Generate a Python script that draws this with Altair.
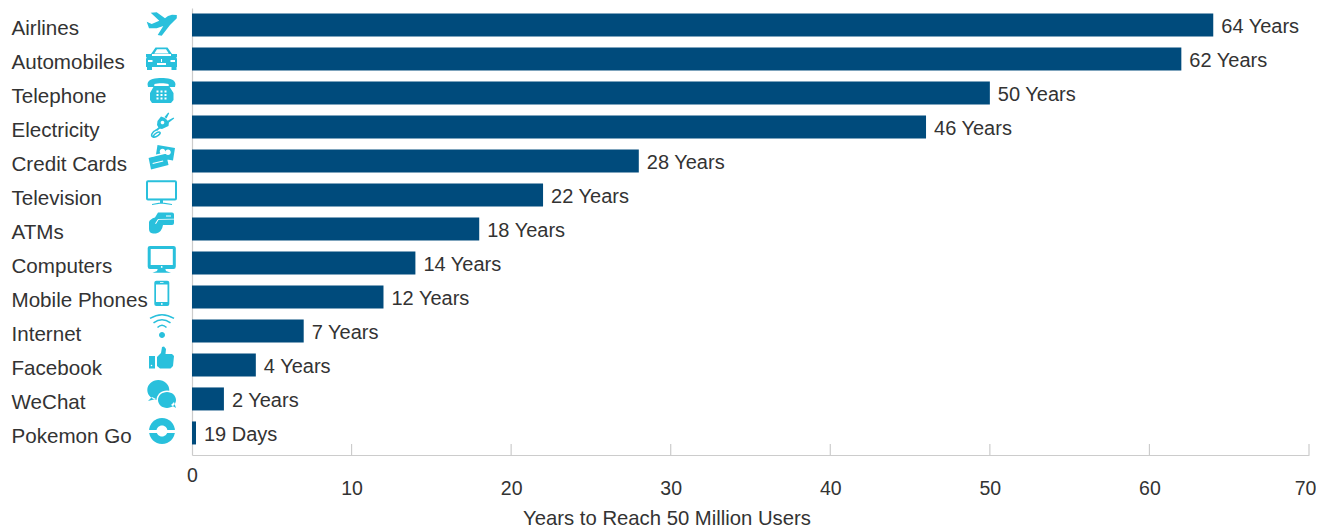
import altair as alt
import pandas as pd

categories = ["Airlines", "Automobiles", "Telephone", "Electricity", "Credit Cards", "Television", "ATMs",
              "Computers", "Mobile Phones", "Internet", "Facebook", "WeChat", "Pokemon Go"]
years = [64, 62, 50, 46, 28, 22, 18, 14, 12, 7, 4, 2, 0.25]
labels = ["64 Years", "62 Years", "50 Years", "46 Years", "28 Years", "22 Years", "18 Years", "14 Years",
          "12 Years", "7 Years", "4 Years", "2 Years", "19 Days"]
ticks = [10, 20, 30, 40, 50, 60, 70]

BAR = "#004b7c"
CYAN = "#29c0dc"
TEXT = "#333333"
GREY = "#cccccc"
FONT = "Liberation Sans"


# Icon glyphs: each drawn around its own row centre (size=4 means one path unit = one pixel).
def row_origin(i):
    return 161, 25 + 34 * i


class Pen:
    def __init__(self, i):
        self.ox, self.oy = row_origin(i)
        self.parts = []

    def p(self, x, y):
        return f"{x - self.ox:.2f} {y - self.oy:.2f}"

    def poly(self, *pts, close=True):
        s = "M" + " L".join(self.p(*q) for q in pts)
        self.parts.append(s + (" Z" if close else ""))
        return self

    def rect(self, x0, y0, x1, y1):
        return self.poly((x0, y0), (x1, y0), (x1, y1), (x0, y1))

    def ell(self, cx, cy, rx, ry=None):
        ry = rx if ry is None else ry
        a = f"M{self.p(cx - rx, cy)} A{rx} {ry} 0 1 1 {self.p(cx + rx, cy)} A{rx} {ry} 0 1 1 {self.p(cx - rx, cy)} Z"
        self.parts.append(a)
        return self

    def curve(self, a, b, c):
        self.parts.append(f"M{self.p(*a)} Q{self.p(*b)} {self.p(*c)}")
        return self

    def raw(self, *cmds):
        out = []
        for cmd, *pts in cmds:
            out.append(cmd + " ".join(self.p(*q) for q in pts))
        self.parts.append(" ".join(out))
        return self

    def d(self):
        return " ".join(self.parts) if self.parts else "M0 0"


icon_fill, icon_white, icon_top, icon_line = [], [], [], []


def add(i, fill=None, white=None, top=None, line=None):
    pens = [Pen(i), Pen(i), Pen(i), Pen(i)]
    for fn, pen in zip([fill, white, top, line], pens):
        if fn:
            fn(pen)
    icon_fill.append(pens[0].d())
    icon_white.append(pens[1].d())
    icon_top.append(pens[2].d())
    icon_line.append(pens[3].d())


# Airlines
add(0, fill=lambda g: g.poly((176.8, 15), (172, 14.8), (168, 16), (165, 18.3), (156.7, 12.3), (150.7, 12.7),
                             (159.3, 20.7), (151.7, 24), (146.7, 21.7), (149, 28.3), (156.7, 28.3),
                             (163.3, 26), (157.7, 35), (161.7, 35.7), (170, 25), (176.8, 18.3)))
# Automobiles
add(1, fill=lambda g: g.poly((151, 54), (155.5, 47.5), (167.5, 47.5), (172, 54)).rect(146, 54, 152, 57)
    .rect(171, 54, 177, 57).poly((147, 56), (176, 56), (177, 59), (177, 67), (146, 67), (146, 59))
    .rect(147, 67, 152, 70).rect(171.5, 67, 176.5, 70),
    white=lambda g: g.poly((154.3, 53.5), (157, 49.2), (166, 49.2), (168.8, 53.5)).rect(148, 60, 152.5, 62)
    .rect(170.5, 60, 175, 62).rect(157, 63, 166, 65).rect(161, 59, 162, 62))
# Telephone
add(2, fill=lambda g: g.raw(("M", (147.5, 84)), ("C", (148, 78.5), (156, 78), (161.5, 78), (167, 78), (175, 78.5), (175.5, 84)),
                            ("L", (175, 87)), ("L", (169, 87)), ("L", (168.5, 84)), ("C", (165, 83), (158, 83), (154.5, 84)),
                            ("L", (154, 87)), ("L", (148, 87)), ("Z",)).poly((154, 86), (169, 86), (173.5, 93), (173.5, 100),
                            (171, 103), (152, 103), (150, 100), (150, 93)),
    white=lambda g: [g.rect(x - 1, y - 1, x + 1, y + 1) for x in (157.5, 161.5, 165.5) for y in (91.5, 95, 98.5)])
# Electricity
add(3, fill=lambda g: g.poly((161, 116.5), (165, 118), (169, 122), (168.5, 126), (162, 129), (159, 128.5), (157, 125), (157.5, 121))
    .poly((164.5, 117), (168.2, 112.5), (169.2, 113.2), (166.5, 118.5)).poly((168, 120.5), (173.5, 117.5), (174.2, 118.5), (169, 122.5))
    .poly((159, 127), (160, 128.5), (157, 131), (155.5, 129.8)),
    white=lambda g: g.ell(162.5, 122.5, 1.8),
    line=lambda g: g.raw(("M", (156.5, 130)), ("C", (152, 132), (150, 136), (153, 137), (156, 138), (161, 134), (160, 132.5), (159, 131), (155, 133), (153, 136.5))))
# Credit cards
add(4, fill=lambda g: g.poly((157.5, 145), (175, 148), (173, 160.5), (155.5, 157.5))
    .poly((148.5, 157.5), (166, 153.5), (168.5, 165), (151, 169.5)),
    white=lambda g: g.ell(162.5, 151.5, 2.8).ell(168, 152.3, 2.8).poly((147, 156.5), (166, 152.2), (166.9, 153.5), (148, 158))
    .poly((152.5, 163), (163, 160.5), (163.3, 161.5), (152.8, 164)))
# Television
add(5, fill=lambda g: g.raw(("M", (148, 180.3)), ("L", (175, 180.3)), ("Q", (177, 180.3), (177, 182.3)), ("L", (177, 198.5)),
                            ("Q", (177, 200.5), (175, 200.5)), ("L", (148, 200.5)), ("Q", (146, 200.5), (146, 198.5)), ("L", (146, 182.3)),
                            ("Q", (146, 180.3), (148, 180.3)), ("Z",))
    .rect(160, 200, 163, 203).poly((152, 204), (160, 202.5), (163, 202.5), (172, 204), (172, 205), (163, 203.7), (160, 203.7), (152, 205)),
    white=lambda g: g.rect(148, 182.3, 175, 198.5))
# ATMs
add(6, fill=lambda g: g.raw(("M", (158, 212.5)), ("L", (172, 212.5)), ("Q", (174, 212.5), (174, 214.5)), ("L", (174, 223)),
                            ("Q", (174, 225), (172, 225)), ("L", (163, 225)), ("Q", (162, 232), (156, 233.5)), ("L", (153, 233.5)), ("Q", (149, 233), (149, 229)),
                            ("L", (149, 222)), ("Q", (150, 219), (155, 217.5)), ("Z",)),
    white=lambda g: g.poly((155, 223.5), (158, 219), (174, 218.8), (174, 219.6), (158.6, 219.8), (156, 224))
    .rect(166, 215.5, 171, 216.5))
# Computers
add(7, fill=lambda g: g.raw(("M", (150, 246)), ("L", (173.5, 246)), ("Q", (175.8, 246), (175.8, 248)), ("L", (175.8, 266.5)),
                            ("Q", (175.8, 269), (173.5, 269)), ("L", (150, 269)), ("Q", (147.7, 269), (147.7, 266.5)), ("L", (147.7, 248)),
                            ("Q", (147.7, 246), (150, 246)), ("Z",)).poly((158, 268), (165, 268), (166, 271), (171, 272.7), (152.5, 272.7), (157, 271)),
    white=lambda g: g.rect(150.7, 249, 172.8, 265).ell(161.7, 267, 0.9))
# Mobile phones
add(8, fill=lambda g: g.raw(("M", (156.3, 280.7)), ("L", (167.3, 280.7)), ("Q", (169.3, 280.7), (169.3, 282.7)), ("L", (169.3, 304)),
                            ("Q", (169.3, 306), (167.3, 306)), ("L", (156.3, 306)), ("Q", (154.3, 306), (154.3, 304)), ("L", (154.3, 282.7)),
                            ("Q", (154.3, 280.7), (156.3, 280.7)), ("Z",)),
    white=lambda g: g.rect(156, 284.5, 167.5, 302).ell(161.8, 304, 0.9).rect(160, 282.4, 163.5, 283))
# Internet
add(9, fill=lambda g: g.ell(162, 335, 3),
    line=lambda g: g.curve((150, 318.5), (162, 311), (174, 318.5)).curve((153.5, 323), (162, 316.5), (170.5, 323))
    .curve((157.5, 327.5), (162, 323), (166.5, 327.5)))
# Facebook
add(10, fill=lambda g: g.rect(149, 356, 155, 368.5).poly((157, 357), (161, 353), (162, 347), (164, 346.5), (166, 349), (165.5, 354),
                                                       (172, 354), (174, 356), (173, 366), (170.5, 368.5), (160, 368.5), (157, 366)),
    white=lambda g: g.ell(151.5, 365.5, 0.8))
# WeChat
add(11, fill=lambda g: g.ell(158.3, 390, 11, 10).poly((152, 397), (148, 401), (156, 399)),
    white=lambda g: g.ell(167, 400, 10.5, 9.5),
    top=lambda g: g.ell(167, 400, 9, 8).poly((171, 405), (176, 408), (174, 402)))
# Pokemon Go
add(12, fill=lambda g: g.ell(162, 431, 13),
    white=lambda g: g.ell(162, 431, 5.5).rect(148, 430, 176, 433))

rows = pd.DataFrame({"cat": categories, "years": years, "label": labels,
                     "fill": icon_fill, "white": icon_white, "top": icon_top, "line": icon_line})
tick_df = pd.DataFrame({"t": ticks})

W, H = 1117, 447
ICON_X = 161 - 192

y_scale = alt.Scale(type="band", domain=categories, paddingInner=0.3235, paddingOuter=0.235, align=0.34)
x_scale = alt.Scale(domain=[0, 70], nice=False)

y_enc = alt.Y("cat:N", scale=y_scale, sort=categories,
              axis=alt.Axis(title=None, ticks=False, domain=True, domainColor=GREY, domainWidth=1.2,
                            labelAlign="left", labelPadding=181, labelOffset=4, labelFont=FONT, labelFontSize=20.6,
                            labelColor=TEXT, labelLimit=200, grid=False))
x_enc = alt.X("years:Q", scale=x_scale,
              axis=alt.Axis(values=[0] + ticks, ticks=False, grid=False, domainColor=GREY, domainWidth=1.2,
                            labelFont=FONT, labelFontSize=19.5, labelColor=TEXT, labelFlush=False, labelBaseline="middle",
                            labelPadding={"condition": {"test": "datum.value === 0", "value": 20}, "value": 33},
                            labelOffset={"condition": {"test": "datum.value === 70", "value": -4}, "value": 0},
                            title="Years to Reach 50 Million Users", titleFont=FONT, titleFontSize=20.3, titleFontWeight="normal",
                            titleColor=TEXT, titleX=474.5, titleY=63, titleBaseline="middle", titleAnchor="middle"))

bars = alt.Chart(rows).mark_bar(color=BAR, clip=False).encode(x=x_enc, y=y_enc)
values = alt.Chart(rows).mark_text(align="left", baseline="middle", dx=8, dy=2, font=FONT, fontSize=20, color=TEXT).encode(
    x=alt.X("years:Q", scale=x_scale), y=alt.Y("cat:N", scale=y_scale, sort=categories), text="label:N")
tick_marks = alt.Chart(tick_df).mark_rule(color=GREY, strokeWidth=1.2).encode(
    x=alt.X("t:Q", scale=x_scale), y=alt.value(H - 11), y2=alt.value(H))


def icon_layer(field, color, filled=True, stroke_width=1.5):
    if filled:
        mark = alt.Chart(rows).mark_point(filled=True, color=color, opacity=1, strokeWidth=0)
    else:
        mark = alt.Chart(rows).mark_point(filled=False, color=color, opacity=1, strokeWidth=stroke_width)
    return mark.encode(x=alt.value(ICON_X), y=alt.Y("cat:N", scale=y_scale, sort=categories),
                       shape=alt.Shape(f"{field}:N", scale=None), size=alt.value(4))


chart = alt.layer(
    bars, tick_marks, values,
    icon_layer("fill", CYAN), icon_layer("white", "white"), icon_layer("top", CYAN),
    icon_layer("line", CYAN, filled=False),
).properties(
    width=W, height=H,
    autosize=alt.AutoSizeParams(type="none"),
    padding={"left": 184, "top": 0, "right": 7, "bottom": 72},
).configure_view(stroke=None)

chart.save("out.html", embed_options={"renderer": "svg", "actions": False})
